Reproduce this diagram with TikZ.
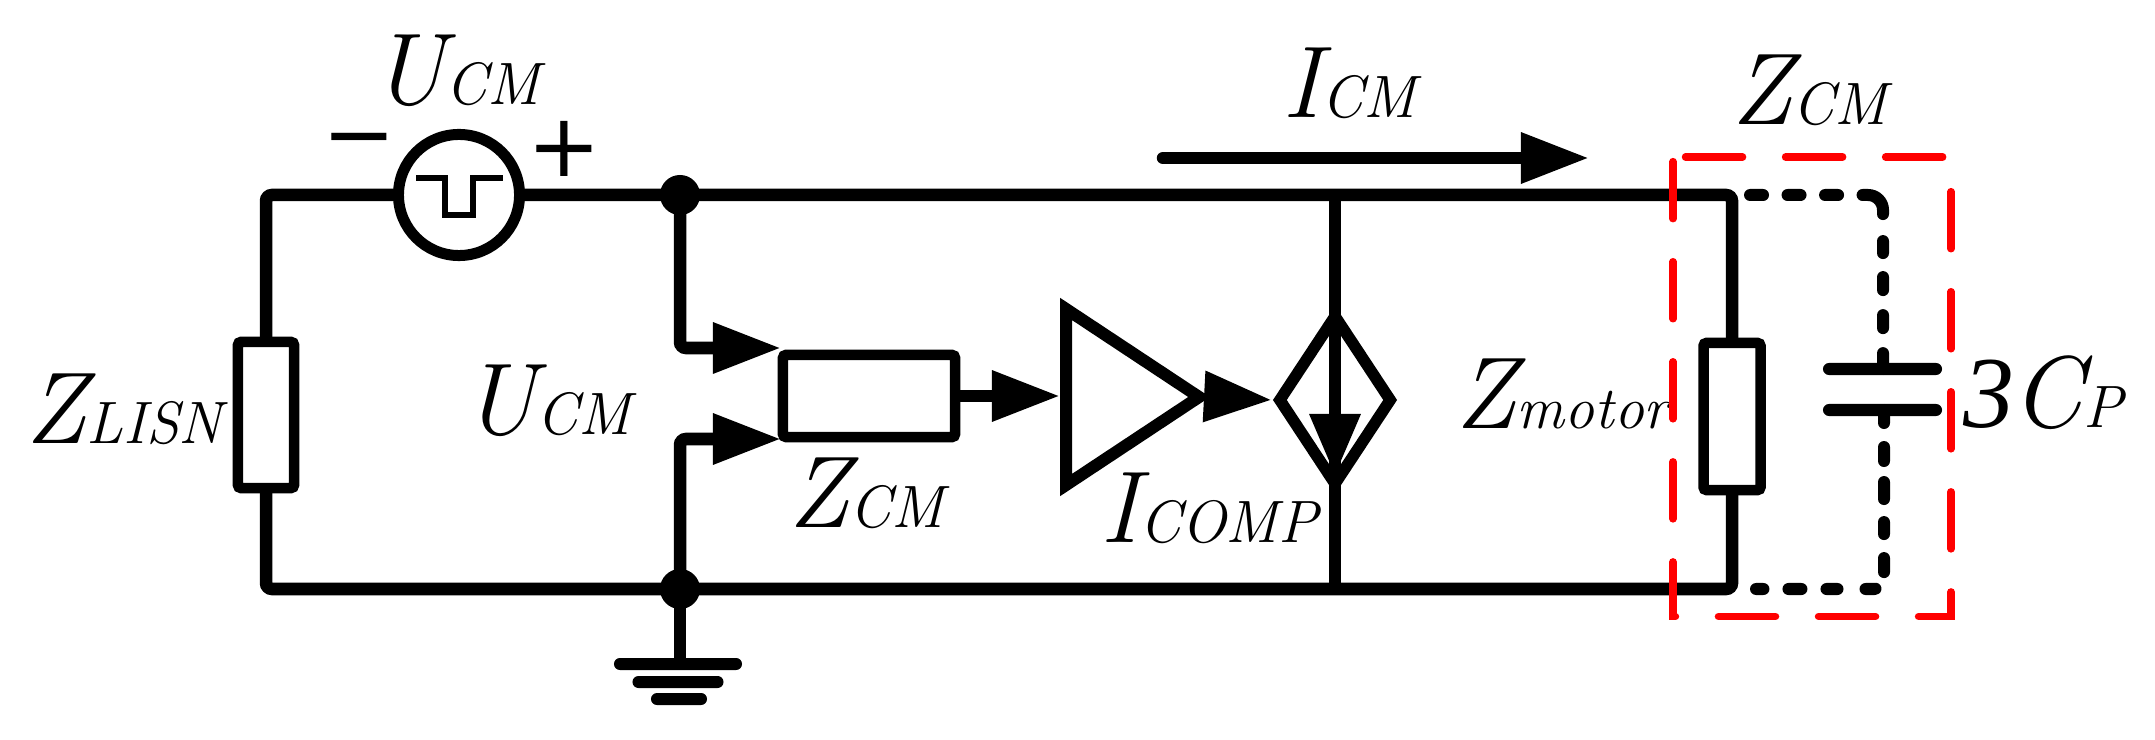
\documentclass[tikz,border=0pt]{standalone}
\usepackage{fontspec}
\usepackage{tikz}
\usetikzlibrary{calc}
\usetikzlibrary{shapes.geometric, arrows.meta}
\newfontfamily\signfont{DejaVu Sans}
\newfontfamily\numfont{Liberation Serif}
\newcommand{\lab}[2]{{\itshape\fontsize{29}{29}\selectfont #1\fontsize{17}{17}\selectfont #2}}
\begin{document}
\begin{tikzpicture}[x=0.01cm, y=-0.01cm]
% Define styles
\tikzstyle{wire} = [line width=0.125cm, rounded corners=0.06cm]
\tikzstyle{arrow} = [wire, -{Triangle[length=0.68cm,width=0.48cm]}]
\tikzstyle{imped} = [rectangle, draw=black, line width=0.105cm, rounded corners=0.03cm, inner sep=0pt, outer sep=0pt]
\tikzstyle{source} = [circle, draw=black, line width=0.11cm, minimum size=1.21cm, inner sep=0pt, outer sep=0pt]
\tikzstyle{dot} = [circle, fill=black, minimum size=0.4cm, inner sep=0pt]
\tikzstyle{plate} = [rectangle, fill=black, rounded corners=0.06cm, minimum height=0.12cm, inner sep=0pt]
\tikzstyle{amp} = [isosceles triangle, isosceles triangle stretches, draw=black, line width=0.12cm, minimum width=1.76cm, minimum height=1.33cm, inner sep=0pt, anchor=lower side]
\tikzstyle{dep} = [diamond, aspect=0.67, draw=black, line width=0.115cm, minimum width=1.15cm, minimum height=1.72cm, inner sep=0pt]
\tikzstyle{dashred} = [draw=red, line width=0.075cm, line cap=round, dash pattern=on 0.57cm off 0.43cm]
\tikzstyle{label} = [anchor=base west, inner sep=0pt, text=black]
\tikzstyle{sign} = [inner sep=0pt, font=\signfont\fontsize{25}{25}\selectfont]
\useasboundingbox (0,0) rectangle (2155,740);
% Place nodes
\node (vsrc) [source] at (459,195) {};
\node (zlisn) [imped, minimum width=0.56cm, minimum height=1.46cm] at (266,415) {};
\node (zsense) [imped, minimum width=1.72cm, minimum height=0.82cm] at (869,396) {};
\node (zmotor) [imped, minimum width=0.57cm, minimum height=1.47cm] at (1732,416.5) {};
\node (gain) [amp] at (1060,397) {};
\node (comp) [dep] at (1335,400) {};
\node (cptop) [plate, minimum width=1.19cm] at (1882.5,369) {};
\node (cpbot) [plate, minimum width=1.19cm] at (1882.5,410) {};
\node (j1) [dot] at (680,195) {};
\node (j2) [dot] at (680,589) {};
\node (g1) [plate, minimum width=1.28cm] at (678,664) {};
\node (g2) [plate, minimum width=0.91cm] at (678,682) {};
\node (g3) [plate, minimum width=0.56cm] at (679,699) {};
\coordinate (topr) at (1732,195);
\coordinate (botr) at (1732,589);
\coordinate (dtop) at (1750,195);
\coordinate (dtopc) at (1883,195);
\coordinate (dbotc) at (1884,589);
\coordinate (dbot) at (1756,589);
\coordinate (in1) at (781,348);
\coordinate (in2) at (781,439);
\coordinate (compin) at (1272,400);
\coordinate (comptip) at (1335,476);
\coordinate (icm1) at (1163,158);
\coordinate (icm2) at (1589,158);
\coordinate (red1) at (1685.5,157);
\coordinate (red2) at (1951,157);
\coordinate (red3) at (1951,616.5);
\coordinate (red4) at (1673,616.5);
\coordinate (red5) at (1673,157);
% Labels
\node (lvtop) [label] at (371,105) {\lab{U}{CM}};
\node (lzlisn) [label] at (25,443) {\lab{Z}{LISN}};
\node (lvmid) [label] at (462,435) {\lab{U}{CM}};
\node (lzsense) [label] at (788,527) {\lab{Z}{CM}};
\node (licomp) [label] at (1100,542) {\lab{I}{COMP}};
\node (licm) [label] at (1282,118) {\lab{I}{CM}};
\node (lzcm) [label] at (1731,125) {\lab{Z}{CM}};
\node (lzmotor) [label] at (1455,429) {\lab{Z}{motor}};
\node (lcp) [label] at (1963,427) {\lab{{\numfont\itshape 3}\kern-0.8pt C}{P}};
\node (minus) [sign] at (359,149) {−};
\node (plus) [sign] at (564,149) {+};
% Draw wires
\draw [wire] (zlisn) -- (zlisn |- vsrc) -- (vsrc);
\draw [wire] (zlisn) -- (zlisn |- j2) -- (j2.center);
\draw [wire] (vsrc) -- (j1.center) -- (topr) -- (zmotor);
\draw [wire] (j2.center) -- (botr) -- (zmotor);
\draw [wire] (j2.center) -- (j2.center |- g1);
\draw [wire] (comp |- j1) -- (comp |- j2);
% Draw arrows
\draw [arrow] (j1.center) |- (in1);
\draw [arrow] (j2.center) |- (in2);
\draw [arrow] (zsense.east) -- (zsense.east -| gain.lower side);
\draw [arrow] (gain.apex) -- (compin);
\draw [wire, -{Triangle[length=0.62cm,width=0.48cm]}] (comp.center) -- (comptip);
\draw [arrow, line cap=round] (icm1) -- (icm2);
% Pulse in the source
\draw [line width=0.06cm] ($(vsrc)+(-43,-17)$) -- ++(29,0) -- ++(0,37) -- ++(28,0) -- ++(0,-37) -- ++(30,0);
% Dotted branch with the capacitor
\draw [line width=0.12cm, line cap=round, rounded corners=0.15cm, dash pattern=on 0.13cm off 0.245cm on 0.13cm off 0.245cm on 0.13cm off 0.245cm on 0.33cm off 0.27cm on 0.12cm off 0.24cm on 0.13cm off 0.25cm on 0.13cm off 0.25cm on 0.3cm] (dtop) -- (dtopc) -- (dtopc |- cptop);
\draw [line width=0.12cm, line cap=round, rounded corners=0.1cm, dash pattern=on 0.13cm off 0.24cm on 0.14cm off 0.21cm on 0.17cm off 0.23cm on 0.12cm off 0.24cm on 0.14cm off 0.21cm on 0.1cm off 0.28cm on 0.11cm off 0.25cm on 0.13cm off 0.25cm on 0.12cm] (dbotc |- cpbot) -- (dbotc) -- (dbot);
% Red box
\draw [dashred] (red1) -- (red2) -- (red3) -- (red4) -- (red5);
\end{tikzpicture}
\end{document}
